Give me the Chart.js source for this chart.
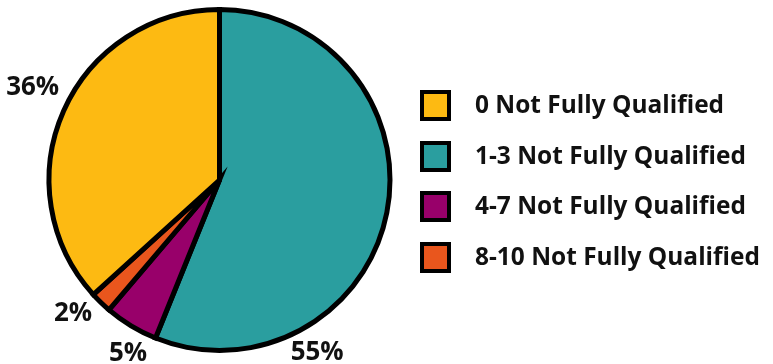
<!DOCTYPE html>
<html>
<head>
<meta charset="utf-8">
<script src="https://cdn.jsdelivr.net/npm/chart.js@4"></script>
<style>
html,body{margin:0;padding:0;background:#fff;}
#wrap{width:773px;height:364px;position:relative;}
</style>
</head>
<body>
<div id="wrap"><canvas id="c" width="773" height="364"></canvas></div>
<script>
const categories = ["0 Not Fully Qualified", "1-3 Not Fully Qualified", "4-7 Not Fully Qualified", "8-10 Not Fully Qualified"];
const values = [36, 55, 5, 2];
const valueLabels = ["36%", "55%", "5%", "2%"];
const colors = ["#FDBA12", "#2A9E9F", "#98006A", "#E9561D"];

// Draw order (clockwise from top): 1-3, 4-7, 8-10, 0
const order = [1, 2, 3, 0];

const FAMILY = "'Open Sans', Lato, sans-serif";

function fitSize(ctx, text, target, weight) {
  ctx.font = weight + " 20px " + FAMILY;
  const w = ctx.measureText(text).width;
  return 20 * target / w;
}

const labelPlugin = {
  id: 'outsideLabels',
  afterDraw(chart, args, opts) {
    const ctx = chart.ctx;
    const meta = chart.getDatasetMeta(0);
    ctx.save();
    const ls = fitSize(ctx, "36%", 53, 700);
    ctx.font = "700 " + ls + "px " + FAMILY;
    ctx.fillStyle = '#111';
    ctx.textAlign = 'center';
    ctx.textBaseline = 'middle';
    meta.data.forEach((arc, i) => {
      const p = arc.getProps(['x', 'y', 'startAngle', 'endAngle', 'outerRadius'], true);
      let ang = (p.startAngle + p.endAngle) / 2;
      ang += (opts.angleShift[i] || 0) * Math.PI / 180;
      const r = p.outerRadius + opts.dist[i];
      ctx.fillText(chart.data.datasets[0].labelsText[i], p.x + Math.cos(ang) * r, p.y + Math.sin(ang) * r);
    });
    ctx.restore();

    // Legend
    ctx.save();
    const lx = 420, ly0 = 90, step = 50.7, bs = 31;
    const fs = fitSize(ctx, categories[3], 285, 700);
    ctx.font = "700 " + fs + "px " + FAMILY;
    ctx.textBaseline = 'middle';
    ctx.textAlign = 'left';
    categories.forEach((cat, i) => {
      const y = Math.round(ly0 + i * step);
      ctx.fillStyle = '#000';
      ctx.fillRect(lx, y, bs, bs);
      ctx.fillStyle = colors[i];
      ctx.fillRect(lx + 4, y + 4, bs - 8, bs - 8);
      ctx.fillStyle = '#111';
      ctx.fillText(cat, 475, y + bs / 2 + 1);
    });
    ctx.restore();
  }
};

new Chart(document.getElementById('c'), {
  type: 'pie',
  data: {
    labels: order.map(i => categories[i]),
    datasets: [{
      data: order.map(i => values[i]),
      backgroundColor: order.map(i => colors[i]),
      labelsText: order.map(i => valueLabels[i]),
      borderColor: '#000',
      borderWidth: 5,
      borderJoinStyle: 'miter'
    }]
  },
  options: {
    responsive: false,
    animation: false,
    layout: { padding: { left: 46, right: 380, top: 7, bottom: 11 } },
    plugins: {
      legend: { display: false },
      tooltip: { enabled: false },
      outsideLabels: { angleShift: [49.5, -3.5, 3.5, 2.5], dist: [28, 26, 28, 38] }
    }
  },
  plugins: [labelPlugin]
});
</script>
</body>
</html>
